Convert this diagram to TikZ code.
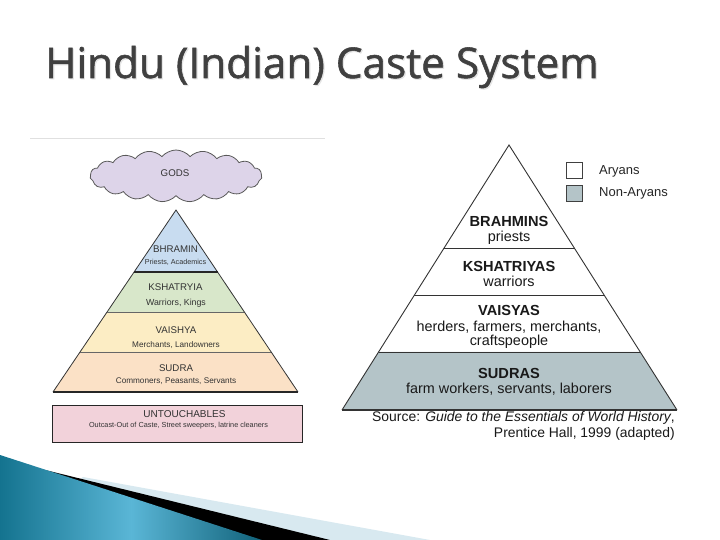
\documentclass[tikz,border=0pt]{standalone}
\usepackage{fontspec}
\setmainfont{Liberation Sans}
\newfontfamily\titlefont{Open Sans}[FakeBold=1.3]
\usetikzlibrary{calc,shapes.symbols}
\definecolor{titlegray}{HTML}{404040}
\definecolor{lblue}{HTML}{C8DCF0}
\definecolor{lgreen}{HTML}{D8E7CA}
\definecolor{lyellow}{HTML}{FCEDC4}
\definecolor{lpeach}{HTML}{FBE1C6}
\definecolor{lpink}{HTML}{F2D2DA}
\definecolor{lcloud}{HTML}{DDD4E9}
\definecolor{nonaryan}{HTML}{B4C4C8}
\definecolor{rline}{HTML}{333333}
\definecolor{lband}{HTML}{D8E9F0}
\definecolor{tealdark}{HTML}{14738F}
\definecolor{teallight}{HTML}{5AB6D6}
\tikzset{
  ltitle/.style={anchor=base, inner sep=0, text=black!80, font=\fontsize{9.7}{11}\selectfont},
  lsub/.style={anchor=base, inner sep=0, text=black!80, font=\fontsize{8.2}{10}\selectfont},
  rbold/.style={anchor=base, inner sep=0, text=black!90, font=\bfseries\fontsize{14.6}{16}\selectfont},
  rtext/.style={anchor=base, inner sep=0, text=black!90, font=\fontsize{14.4}{16}\selectfont},
  legtext/.style={anchor=west, inner sep=0, text=black!85, font=\fontsize{13}{15}\selectfont},
  srctext/.style={inner sep=0, text=black!90, font=\fontsize{13.9}{15}\selectfont},
}
\begin{document}
\begin{tikzpicture}[x=1pt,y=-1pt]
\useasboundingbox (0,0) rectangle (720,540);
\fill[white] (0,0) rectangle (720,540);

% title
\node[anchor=base west, inner sep=0, font=\titlefont\fontsize{42.3}{42}\selectfont, text=black!10] (titleshadow) at (46.2,79.2) {Hindu (Indian) Caste System};
\node[anchor=base west, inner sep=0, font=\titlefont\fontsize{42.3}{42}\selectfont, text=titlegray] (title) at (45,78) {Hindu (Indian) Caste System};

% ---------------- left picture ----------------
\draw[black!12] (30,138) -- (325,138);
\node[cloud, cloud puffs=19, cloud puff arc=100, aspect=3.4, draw=black!65, fill=lcloud, line width=0.8pt, minimum width=172, minimum height=52, inner sep=0] (cloud) at (176,176) {};
\node[ltitle] (gods) at (175,176.2) {GODS};

\coordinate (LA) at (176,210);
\coordinate (LBL) at (53,392);
\coordinate (LBR) at (298,392);
\fill[lblue] (LA) -- ($(LA)!0.3407!(LBL)$) -- ($(LA)!0.3407!(LBR)$) -- cycle;
\fill[lgreen] ($(LA)!0.3407!(LBL)$) -- ($(LA)!0.5604!(LBL)$) -- ($(LA)!0.5604!(LBR)$) -- ($(LA)!0.3407!(LBR)$) -- cycle;
\fill[lyellow] ($(LA)!0.5604!(LBL)$) -- ($(LA)!0.7802!(LBL)$) -- ($(LA)!0.7802!(LBR)$) -- ($(LA)!0.5604!(LBR)$) -- cycle;
\fill[lpeach] ($(LA)!0.7802!(LBL)$) -- (LBL) -- (LBR) -- ($(LA)!0.7802!(LBR)$) -- cycle;
\draw[black!80, line width=0.8pt] (LBL) -- (LA) -- (LBR);
\draw[black!85, line width=1.6pt] ($(LA)!0.3407!(LBL)$) -- ($(LA)!0.3407!(LBR)$);
\draw[black!60, line width=0.8pt] ($(LA)!0.5604!(LBL)$) -- ($(LA)!0.5604!(LBR)$);
\draw[black!60, line width=0.8pt] ($(LA)!0.7802!(LBL)$) -- ($(LA)!0.7802!(LBR)$);
\draw[black!85, line width=1.3pt] (LBL) -- (LBR);

\node[ltitle] (bhramin) at (175.5,252.4) {BHRAMIN};
\node[lsub, font=\fontsize{7.2}{9}\selectfont] (priestsL) at (175.5,264) {Priests, Academics};
\node[ltitle] (kshatryia) at (175.5,290) {KSHATRYIA};
\node[lsub, font=\fontsize{8.8}{10}\selectfont] (warriorsL) at (176,305.2) {Warriors, Kings};
\node[ltitle] (vaishya) at (176,333.5) {VAISHYA};
\node[lsub] (merchants) at (176,347) {Merchants, Landowners};
\node[ltitle] (sudra) at (176,371.5) {SUDRA};
\node[lsub] (commoners) at (176,383) {Commoners, Peasants, Servants};

\node[draw=black!85, line width=1.1pt, fill=lpink, minimum width=250, minimum height=37, inner sep=0] (untbox) at (177.7,423.6) {};
\node[ltitle, font=\fontsize{10}{12}\selectfont] (untouch) at (184.5,417.5) {UNTOUCHABLES};
\node[lsub, font=\fontsize{7.3}{9}\selectfont] (outcast) at (178.5,427.7) {Outcast-Out of Caste, Street sweepers, latrine cleaners};

% ---------------- right picture ----------------
\coordinate (RA) at (509,145);
\coordinate (RBL) at (342,410);
\coordinate (RBR) at (677,410);
\fill[nonaryan] ($(RA)!0.7811!(RBL)$) -- (RBL) -- (RBR) -- ($(RA)!0.7811!(RBR)$) -- cycle;
\draw[rline, line width=0.9pt] (RBL) -- (RA) -- (RBR);
\draw[rline, line width=0.9pt] ($(RA)!0.3887!(RBL)$) -- ($(RA)!0.3887!(RBR)$);
\draw[rline, line width=0.9pt] ($(RA)!0.5660!(RBL)$) -- ($(RA)!0.5660!(RBR)$);
\draw[rline, line width=0.9pt] ($(RA)!0.7811!(RBL)$) -- ($(RA)!0.7811!(RBR)$);
\draw[rline, line width=2pt] (RBL) -- (RBR);

\node[rbold] (brahmins) at (509,226) {BRAHMINS};
\node[rtext] (priestsR) at (509,241) {priests};
\node[rbold] (kshatriyas) at (509,271) {KSHATRIYAS};
\node[rtext] (warriorsR) at (509,286) {warriors};
\node[rbold] (vaisyas) at (509,315) {VAISYAS};
\node[rtext] (herders) at (509,331.2) {herders, farmers, merchants,};
\node[rtext] (crafts) at (509,345.5) {craftspeople};
\node[rbold] (sudras) at (509,378.3) {SUDRAS};
\node[rtext] (farm) at (509,393.5) {farm workers, servants, laborers};

\node[srctext, anchor=base east] (source) at (675,421.7) {Source: \textit{Guide to the Essentials of World History},};
\node[srctext, anchor=base east] (prentice) at (675,437.7) {Prentice Hall, 1999 (adapted)};

% legend
\node[draw=black!75, line width=0.9pt, fill=white, minimum width=16, minimum height=16, inner sep=0] (aryanbox) at (574,170) {};
\node[draw=black!75, line width=0.9pt, fill=nonaryan, minimum width=16, minimum height=16, inner sep=0] (nonaryanbox) at (574,193) {};
\node[legtext] (aryans) at (599,171) {Aryans};
\node[legtext] (nonaryans) at (599,193.5) {Non-Aryans};

% ---------------- bottom decoration ----------------
\fill[lband] (83,477) -- (430,540) -- (0,540) -- cycle;
\fill[black] (33,467) -- (330,540) -- (0,540) -- cycle;
\shade[left color=tealdark, right color=tealdark!85!black, middle color=teallight] (0,455) -- (262,540) -- (0,540) -- cycle;
\end{tikzpicture}
\end{document}
